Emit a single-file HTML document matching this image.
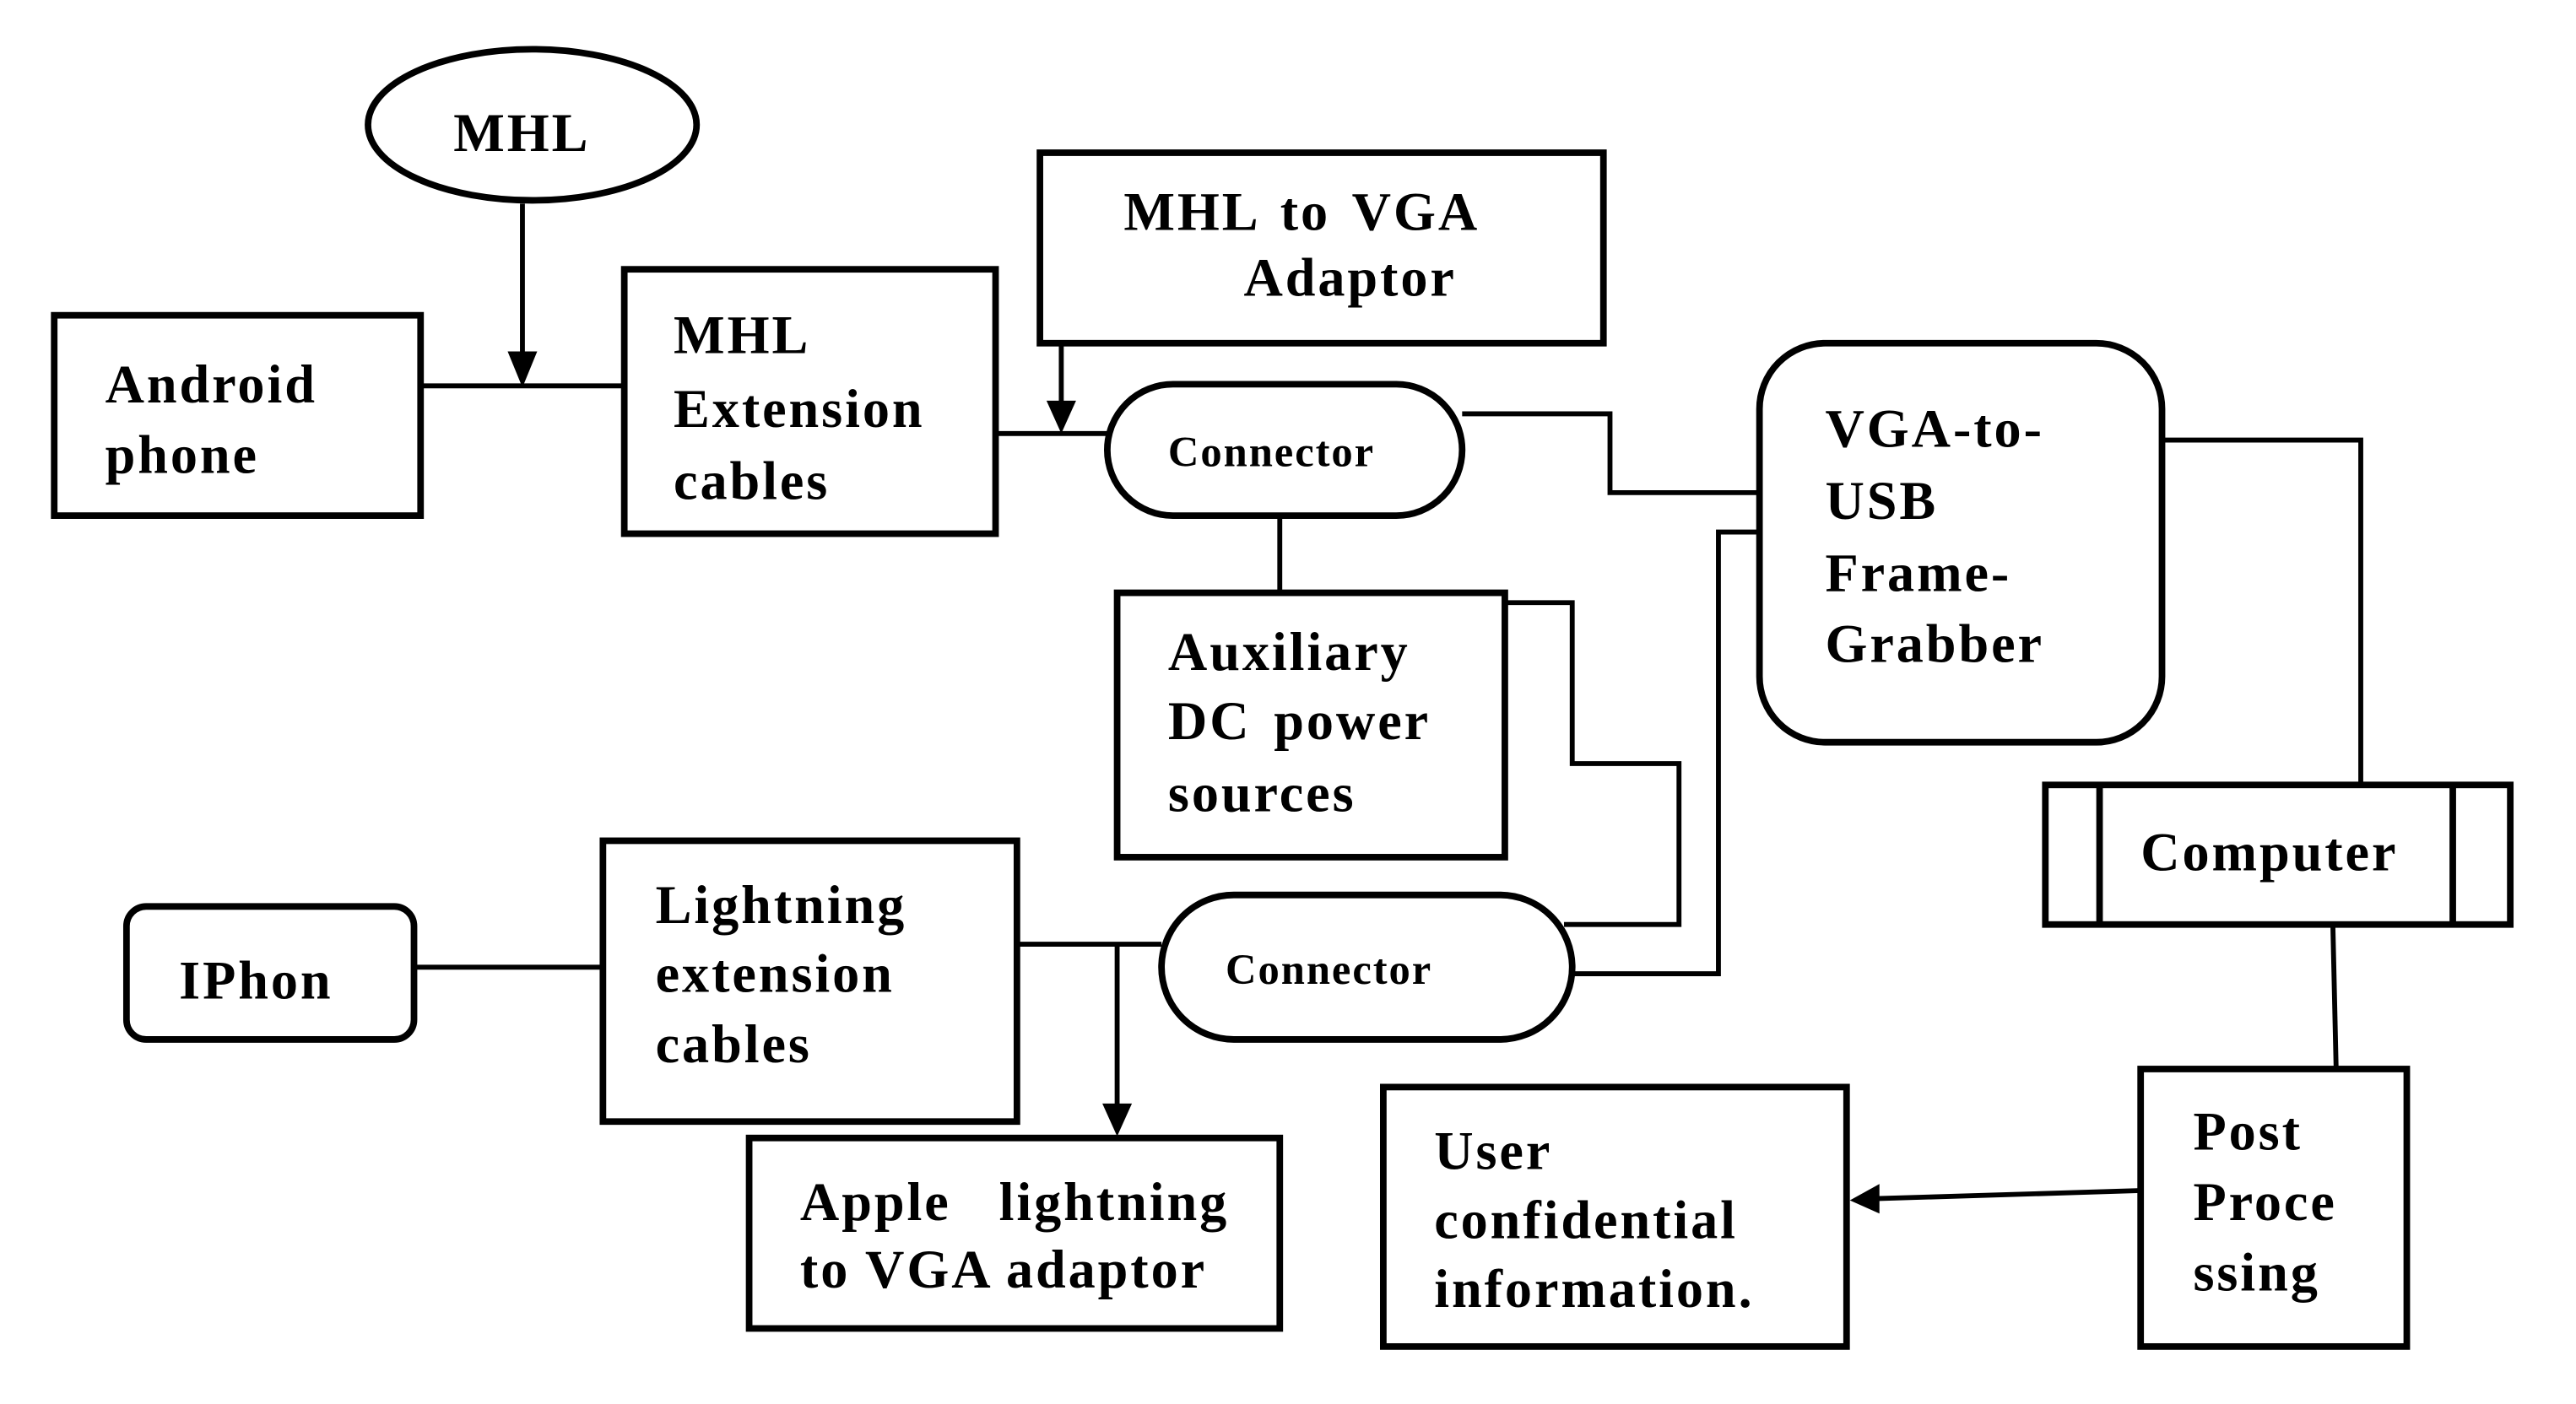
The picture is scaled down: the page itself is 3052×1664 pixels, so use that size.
<!DOCTYPE html>
<html><head><meta charset="utf-8"><style>
html,body{margin:0;padding:0;background:#fff;}
svg{display:block;}
text{font-family:"Liberation Serif",serif;font-weight:bold;fill:#000;letter-spacing:1.5px;}
text.c{letter-spacing:1px;}
</style></head><body>
<svg width="3052" height="1664" viewBox="0 0 1568 855" preserveAspectRatio="none" xmlns="http://www.w3.org/2000/svg">
<g fill="none" stroke="#000" stroke-width="4">
<ellipse cx="324" cy="76" rx="100" ry="46"/>
<rect x="33" y="192" width="223" height="122"/>
<rect x="380" y="164" width="226" height="161"/>
<rect x="633" y="93" width="343" height="116"/>
<rect x="674" y="234" width="216" height="80" rx="40"/>
<rect x="680" y="361" width="236" height="161"/>
<rect x="1071" y="209" width="245" height="243" rx="40"/>
<rect x="1245" y="478" width="283" height="85"/>
<line x1="1278" y1="478" x2="1278" y2="563"/>
<line x1="1493" y1="478" x2="1493" y2="563"/>
<rect x="1303" y="651" width="162" height="169"/>
<rect x="842" y="662" width="282" height="158"/>
<rect x="77" y="552" width="175" height="81" rx="12"/>
<rect x="367" y="512" width="252" height="171"/>
<rect x="707" y="545" width="250" height="88" rx="44"/>
<rect x="456" y="693" width="323" height="116"/>
</g>
<g fill="none" stroke="#000" stroke-width="3">
<line x1="256" y1="235" x2="380" y2="235"/>
<line x1="606" y1="264" x2="674" y2="264"/>
<line x1="779" y1="314" x2="779" y2="361"/>
<polyline points="890,252 980,252 980,300 1071,300"/>
<polyline points="916,367 957,367 957,465 1022,465 1022,563 952,563"/>
<polyline points="957,593 1046,593 1046,324 1071,324"/>
<polyline points="1316,268 1437,268 1437,478"/>
<line x1="1420" y1="563" x2="1422" y2="651"/>
<line x1="252" y1="589" x2="367" y2="589"/>
<line x1="619" y1="575" x2="707" y2="575"/>
</g>
<g stroke="#000" stroke-width="3">
<line x1="318" y1="124" x2="318" y2="218"/>
<line x1="646" y1="209" x2="646" y2="248"/>
<line x1="680" y1="575" x2="680" y2="676"/>
<line x1="1303" y1="725" x2="1140" y2="730"/>
</g>
<g fill="#000">
<path d="M309,214 L327,214 L318,236 z"/>
<path d="M637,244 L655,244 L646,264 z"/>
<path d="M671,672 L689,672 L680,692 z"/>
<path d="M1144,721 L1144,739 L1126,731 z"/>
</g>
<text x="276" y="92" font-size="33">MHL</text>
<text x="64" y="245" font-size="33">Android</text>
<text x="64" y="288" font-size="33">phone</text>
<text x="410" y="215" font-size="33">MHL</text>
<text x="410" y="260" font-size="33">Extension</text>
<text x="410" y="304" font-size="33">cables</text>
<text x="684" y="140" font-size="33" word-spacing="4">MHL to VGA</text>
<text x="757" y="180" font-size="33">Adaptor</text>
<text class="c" x="711" y="284" font-size="26">Connector</text>
<text x="711" y="408" font-size="33">Auxiliary</text>
<text x="711" y="450" font-size="33" word-spacing="4">DC power</text>
<text x="711" y="494" font-size="33">sources</text>
<text x="1111" y="272" font-size="33">VGA-to-</text>
<text x="1111" y="316" font-size="33">USB</text>
<text x="1111" y="360" font-size="33">Frame-</text>
<text x="1111" y="403" font-size="33">Grabber</text>
<text x="1303" y="530" font-size="33">Computer</text>
<text x="1335" y="700" font-size="33">Post</text>
<text x="1335" y="743" font-size="33">Proce</text>
<text x="1335" y="786" font-size="33">ssing</text>
<text x="873" y="712" font-size="33">User</text>
<text x="873" y="754" font-size="33">confidential</text>
<text x="873" y="796" font-size="33">information.</text>
<text x="109" y="608" font-size="33">IPhon</text>
<text x="399" y="562" font-size="33">Lightning</text>
<text x="399" y="604" font-size="33">extension</text>
<text x="399" y="647" font-size="33">cables</text>
<text class="c" x="746" y="599" font-size="26">Connector</text>
<text x="487" y="743" font-size="33" xml:space="preserve">Apple   lightning</text>
<text x="487" y="784" font-size="33">to VGA adaptor</text>
</svg>
</body></html>
